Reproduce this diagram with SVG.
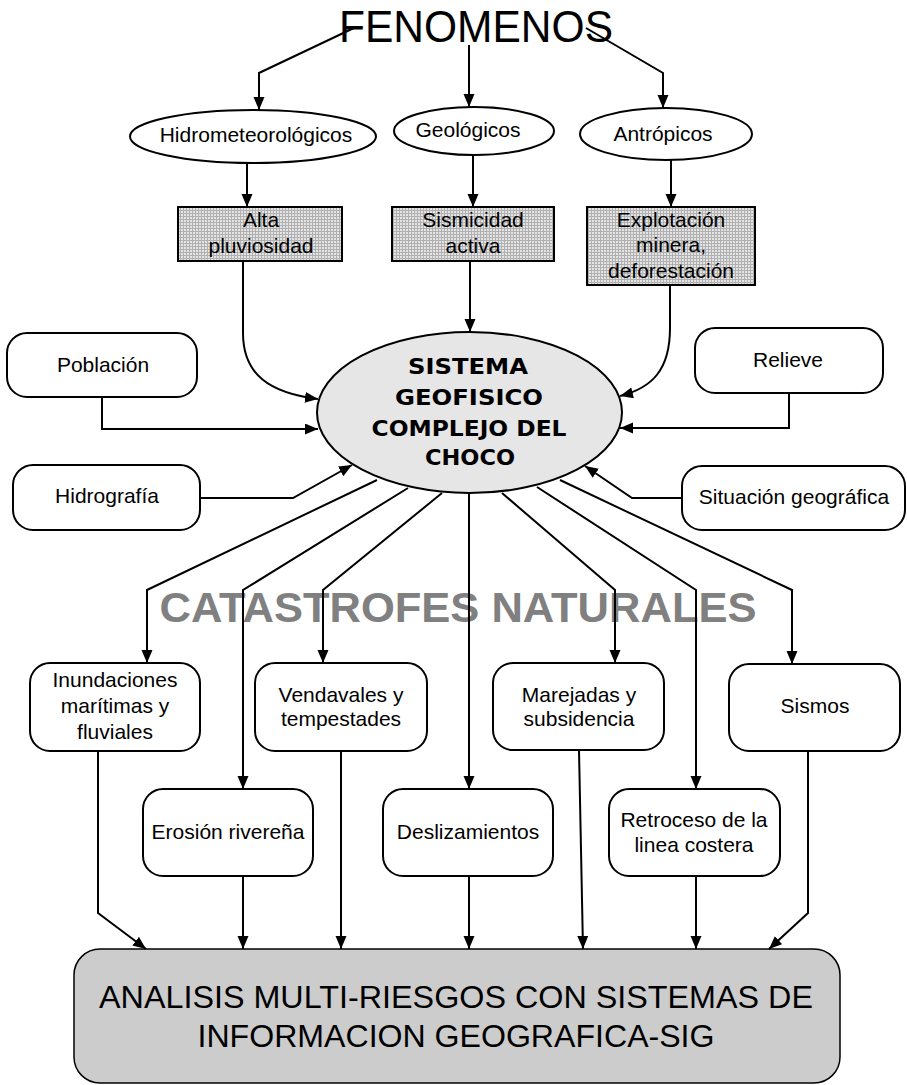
<svg xmlns="http://www.w3.org/2000/svg" width="907" height="1085" viewBox="0 0 907 1085">
<defs>
<marker id="ah" markerUnits="userSpaceOnUse" markerWidth="14" markerHeight="12" refX="13" refY="5.5" orient="auto">
<path d="M0,0 L13,5.5 L0,11 z" fill="#000"/>
</marker>
<pattern id="grid" width="3" height="3" patternUnits="userSpaceOnUse">
<rect width="3" height="3" fill="#e4e4e4"/>
<rect width="1" height="3" fill="#b0b0b0"/>
<rect width="3" height="1" fill="#b0b0b0"/>
</pattern>
<style>
.t{font-family:"Liberation Sans",Arial,sans-serif;font-size:21px;fill:#000;text-anchor:middle}
.node{fill:#fff;stroke:#000;stroke-width:2}
.hatch{fill:url(#grid);stroke:#000;stroke-width:2}
.c{fill:none;stroke:#000;stroke-width:2;marker-end:url(#ah)}
.cc{font-family:"DejaVu Sans",Verdana,sans-serif;font-weight:bold;font-size:21px;text-anchor:middle}
</style>
</defs>
<rect width="907" height="1085" fill="#fff"/>

<g id="fenomenos"><text x="476" y="42" font-family="Liberation Sans, Arial, sans-serif" font-size="44" text-anchor="middle" textLength="274" lengthAdjust="spacingAndGlyphs">FENOMENOS</text></g>

<g id="hidro"><ellipse class="node" cx="253" cy="136.5" rx="123" ry="26.5"/><text class="t" x="256" y="142">Hidrometeorológicos</text></g>
<g id="geo"><ellipse class="node" cx="474" cy="131" rx="80" ry="24"/><text class="t" x="468" y="137">Geológicos</text></g>
<g id="antr"><ellipse class="node" cx="666" cy="134" rx="86" ry="26"/><text class="t" x="663" y="141">Antrópicos</text></g>

<g id="alta"><rect class="hatch" x="178" y="207" width="164" height="54"/><text class="t" x="261" y="227">Alta</text><text class="t" x="261" y="253">pluviosidad</text></g>
<g id="sismicidad"><rect class="hatch" x="392" y="207" width="162" height="54"/><text class="t" x="473" y="227">Sismicidad</text><text class="t" x="473" y="253">activa</text></g>
<g id="explotacion"><rect class="hatch" x="587" y="207" width="168" height="78"/><text class="t" x="671" y="227">Explotación</text><text class="t" x="671" y="252">minera,</text><text class="t" x="671" y="278">deforestación</text></g>

<g id="sistema"><ellipse cx="469.5" cy="412.5" rx="152.5" ry="80.5" fill="#e6e6e6" stroke="#000" stroke-width="2"/>
<text class="cc" x="468" y="374" textLength="120" lengthAdjust="spacingAndGlyphs">SISTEMA</text>
<text class="cc" x="469" y="405" textLength="148" lengthAdjust="spacingAndGlyphs">GEOFISICO</text>
<text class="cc" x="469" y="436" textLength="195" lengthAdjust="spacingAndGlyphs">COMPLEJO DEL</text>
<text class="cc" x="470" y="465" textLength="90" lengthAdjust="spacingAndGlyphs">CHOCO</text></g>

<g id="poblacion"><rect class="node" x="7" y="333" width="190" height="64" rx="20"/><text class="t" x="103" y="372">Población</text></g>
<g id="hidrografia"><rect class="node" x="13" y="465" width="187" height="65" rx="20"/><text class="t" x="107" y="503">Hidrografía</text></g>
<g id="relieve"><rect class="node" x="695" y="328" width="188" height="65" rx="20"/><text class="t" x="788" y="367">Relieve</text></g>
<g id="situacion"><rect class="node" x="682" y="466" width="223" height="64" rx="20"/><text class="t" x="794" y="504">Situación geográfica</text></g>

<g id="catastrofes"><text x="458" y="622" font-family="Liberation Sans, Arial, sans-serif" font-weight="bold" font-size="42" fill="#808080" text-anchor="middle" textLength="597" lengthAdjust="spacingAndGlyphs">CATASTROFES NATURALES</text></g>

<g id="inundaciones"><rect class="node" x="30" y="663" width="170" height="88" rx="20"/><text class="t" x="115" y="687">Inundaciones</text><text class="t" x="115" y="713">marítimas y</text><text class="t" x="115" y="739">fluviales</text></g>
<g id="vendavales"><rect class="node" x="255" y="663" width="172" height="88" rx="20"/><text class="t" x="341" y="702">Vendavales y</text><text class="t" x="341" y="726">tempestades</text></g>
<g id="marejadas"><rect class="node" x="493" y="663" width="171" height="87" rx="20"/><text class="t" x="579" y="702">Marejadas y</text><text class="t" x="579" y="726">subsidencia</text></g>
<g id="sismos"><rect class="node" x="729" y="664" width="171" height="87" rx="20"/><text class="t" x="815" y="713">Sismos</text></g>
<g id="erosion"><rect class="node" x="143" y="789" width="170" height="87" rx="20"/><text class="t" x="228" y="839">Erosión rivereña</text></g>
<g id="deslizamientos"><rect class="node" x="383" y="789" width="170" height="87" rx="20"/><text class="t" x="468" y="839">Deslizamientos</text></g>
<g id="retroceso"><rect class="node" x="609" y="789" width="171" height="87" rx="20"/><text class="t" x="694" y="827">Retroceso de la</text><text class="t" x="694" y="852">linea costera</text></g>

<g id="analisis"><rect x="74" y="949" width="766" height="134" rx="26" fill="#cccccc" stroke="#000" stroke-width="1.5"/>
<text x="456" y="1008" font-family="Liberation Sans, Arial, sans-serif" font-size="31" text-anchor="middle" textLength="714" lengthAdjust="spacingAndGlyphs">ANALISIS MULTI-RIESGOS CON SISTEMAS DE</text>
<text x="456" y="1047" font-family="Liberation Sans, Arial, sans-serif" font-size="31" text-anchor="middle" textLength="517" lengthAdjust="spacingAndGlyphs">INFORMACION GEOGRAFICA-SIG</text></g>

<g id="connectors">
<path class="c" d="M356,27 L259,73 L259,110"/>
<path class="c" d="M469,45 L469,107"/>
<path class="c" d="M586,28 L663,73 L663,108"/>
<path class="c" d="M247,163 L247,207"/>
<path class="c" d="M473,155 L473,207"/>
<path class="c" d="M671,160 L671,207"/>
<path class="c" d="M243,261 L243,333 C243,375 270,393 318,399"/>
<path class="c" d="M470,261 L470,332"/>
<path class="c" d="M670,285 L670,328 C670,370 652,388 620,396"/>
<path class="c" d="M102,397 L102,429 L318,429"/>
<path class="c" d="M789,393 L789,428 L620,428"/>
<path class="c" d="M200,498 L293,498 L352,465"/>
<path class="c" d="M682,498 L632,498 L585,466"/>
<path class="c" d="M377,480 L147,590 L147,663"/>
<path class="c" d="M408,488 L243,590 L243,789"/>
<path class="c" d="M442,493 L323,590 L323,663"/>
<path class="c" d="M469,493 L469,789"/>
<path class="c" d="M502,493 L615,590 L615,663"/>
<path class="c" d="M537,487 L696,590 L696,789"/>
<path class="c" d="M560,480 L792,590 L792,664"/>
<path class="c" d="M98,751 L98,913 L146,949"/>
<path class="c" d="M243,876 L243,949"/>
<path class="c" d="M341,751 L341,949"/>
<path class="c" d="M469,876 L469,949"/>
<path class="c" d="M579,750 L583,949"/>
<path class="c" d="M696,876 L696,949"/>
<path class="c" d="M808,751 L808,913 L769,949"/>
</g>
</svg>
